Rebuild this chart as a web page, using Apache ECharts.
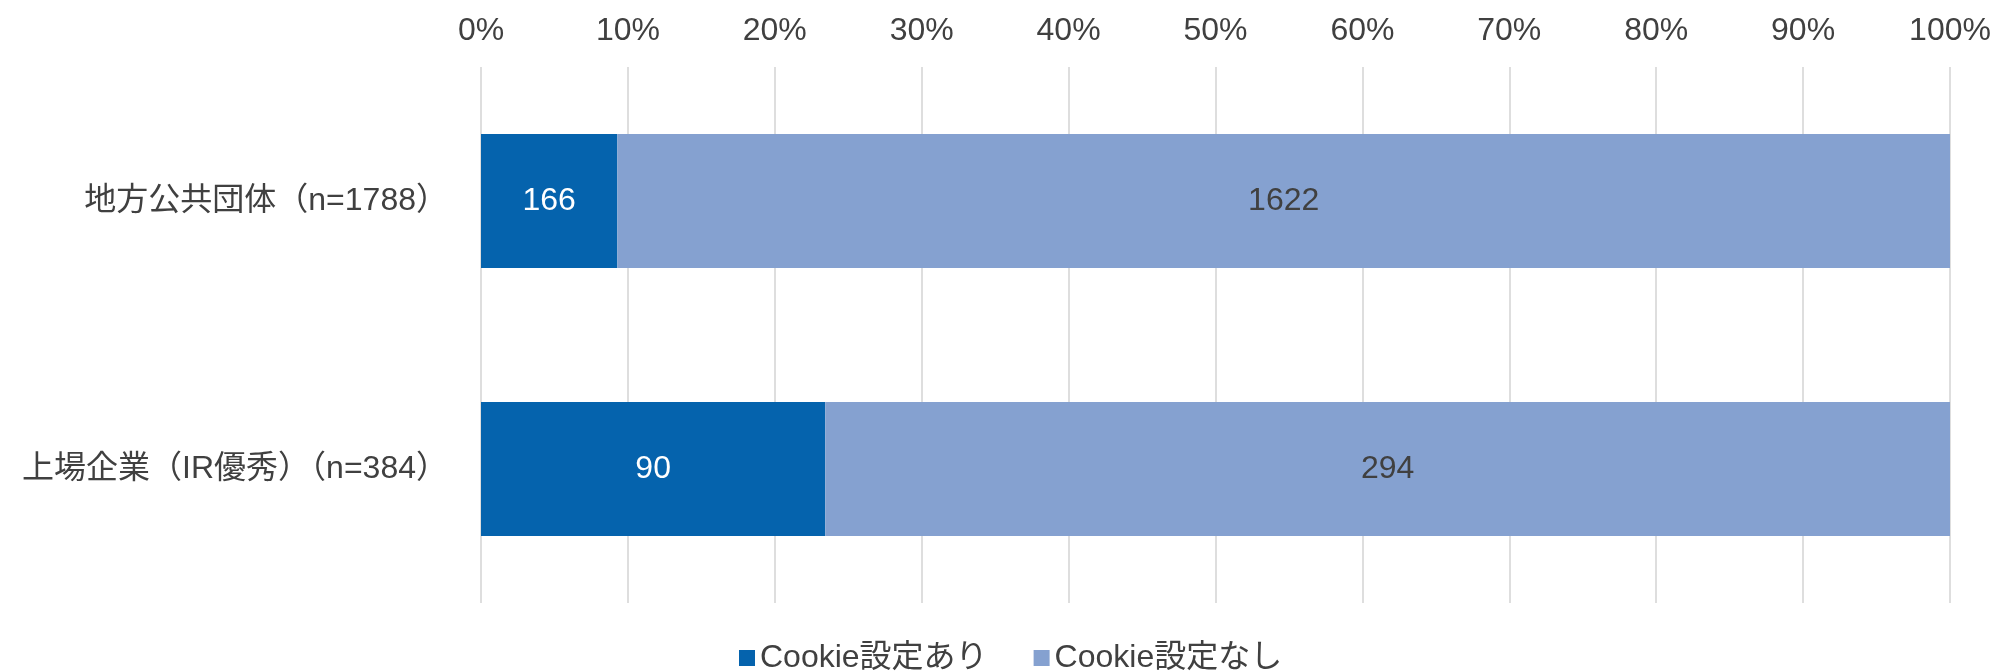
<!DOCTYPE html>
<html>
<head>
<meta charset="utf-8">
<script src="https://cdn.jsdelivr.net/npm/echarts@6/dist/echarts.min.js"></script>
<style>
  html, body { margin: 0; padding: 0; background: #fff; }
  #chart { width: 1995px; height: 671px; }
</style>
</head>
<body>
<div id="chart"></div>
<script>
// categories, top to bottom
const categories = ['地方公共団体（n=1788）', '上場企業（IR優秀）（n=384）']
const seriesNames = ['Cookie設定あり', 'Cookie設定なし']
const withCookie = [166, 90]
const withoutCookie = [1622, 294]
const colors = ['#0563ad', '#85a1d0']

const fontFamily = '"Liberation Sans", Arial, "Noto Sans CJK JP", sans-serif'
const textColor = '#404040'
const fontSize = 32

// share of each row, labels keep the raw counts
function toPercent(values) {
  return values.map((v, i) => ({
    value: v / (withCookie[i] + withoutCookie[i]) * 100,
    count: v
  }))
}

const chart = echarts.init(document.getElementById('chart'))
chart.setOption({
  animation: false,
  textStyle: { fontFamily: fontFamily },
  grid: {
    left: 481,
    right: 45,
    top: 67,
    bottom: 68
  },
  legend: {
    data: seriesNames,
    left: 734,
    top: 637,
    itemWidth: 16,
    itemHeight: 16,
    itemGap: 46,
    icon: 'rect',
    textStyle: { fontSize: fontSize, color: textColor, fontFamily: fontFamily }
  },
  xAxis: {
    type: 'value',
    position: 'top',
    min: 0,
    max: 100,
    interval: 10,
    axisLine: { show: false },
    axisTick: { show: false },
    axisLabel: {
      formatter: '{value}%',
      fontSize: fontSize,
      color: textColor,
      margin: 20
    },
    splitLine: { lineStyle: { color: '#dedede', width: 2 } }
  },
  yAxis: {
    type: 'category',
    inverse: true,
    data: categories,
    axisLine: { show: false },
    axisTick: { show: false },
    axisLabel: {
      fontSize: fontSize,
      color: textColor,
      margin: 33
    }
  },
  series: [
    {
      name: seriesNames[0],
      type: 'bar',
      stack: 'total',
      barWidth: '50%',
      itemStyle: { color: colors[0] },
      label: {
        show: true,
        position: 'inside',
        fontSize: fontSize,
        color: '#ffffff',
        formatter: p => p.data.count
      },
      data: toPercent(withCookie)
    },
    {
      name: seriesNames[1],
      type: 'bar',
      stack: 'total',
      barWidth: '50%',
      itemStyle: { color: colors[1] },
      label: {
        show: true,
        position: 'inside',
        fontSize: fontSize,
        color: textColor,
        formatter: p => p.data.count
      },
      data: toPercent(withoutCookie)
    }
  ]
})
</script>
</body>
</html>
